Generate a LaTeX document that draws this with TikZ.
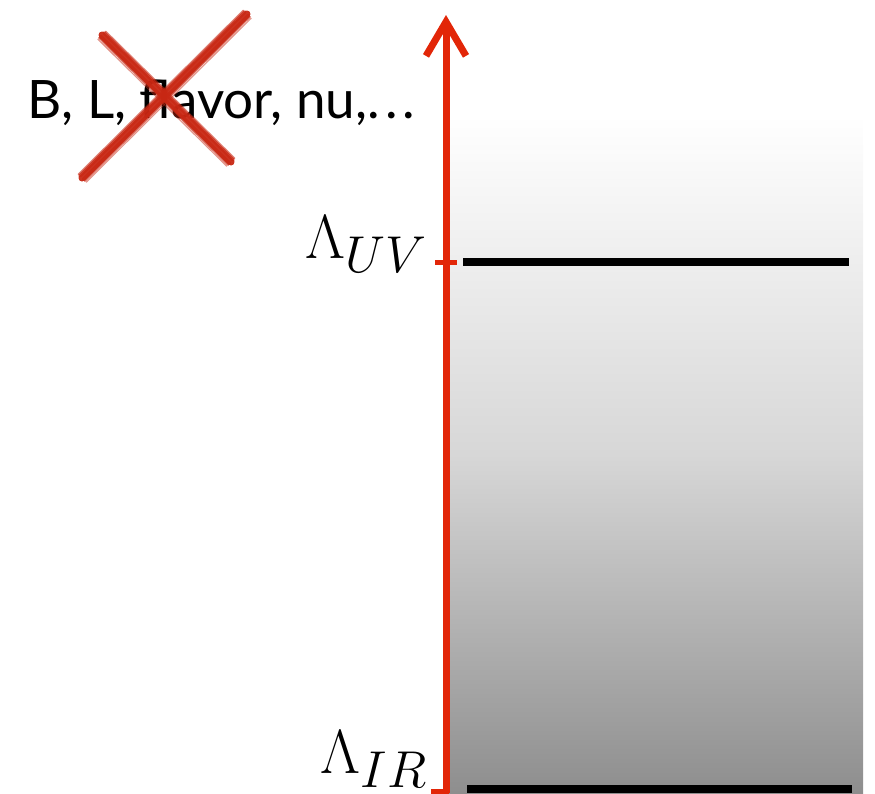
\documentclass[tikz,border=0pt]{standalone}
\usepackage{fontspec}
\setmainfont{Lato}
\usetikzlibrary{arrows.meta}
\definecolor{axisred}{RGB}{226,38,8}
\definecolor{brushred}{RGB}{200,40,20}
\definecolor{shadegray}{RGB}{142,142,142}
\tikzset{
  axis/.style={draw=axisred, line width=7pt},
  level/.style={draw=black, line width=8pt},
  tick/.style={draw=axisred, line width=5pt},
  brush/.style={draw=brushred, line cap=round},
  lbl/.style={inner sep=0pt, font=\Huge, scale=2.5}
}
\begin{document}
\begin{tikzpicture}[x=1pt,y=-1pt]
\useasboundingbox (0,0) rectangle (875,793);
% shaded region
\shade[top color=white, bottom color=shadegray, middle color={rgb,255:red,215;green,215;blue,215}] (447,115) rectangle (863,793);
\fill[white] (447,100) rectangle (863,118);
% text
\node[anchor=base west, inner sep=0pt, font=\fontsize{53}{53}\selectfont] (txt) at (27,118) {B, L, flavor, nu,.\kern5pt.\kern5pt.};
% red cross
\foreach \d/\w/\o in {0/7/0.95, 2/3.5/0.85, -3/3.5/0.8, 4/2/0.7, -5/2/0.6, 6/1.2/0.5}{
  \draw[brush, line width=\w pt, opacity=\o] (82+\d*0.7,178+\d*0.7) -- (247+\d*0.7,14+\d*0.7);
  \draw[brush, line width=\w pt, opacity=\o] (102-\d*0.7,35+\d*0.7) -- (231-\d*0.7,162+\d*0.7);
}
% axis
\coordinate (bot) at (446,793);
\coordinate (top) at (446,15);
\draw[axis, -{Straight Barb[length=34pt, width=40pt]}] (bot) -- (top);
% levels
\coordinate (uvL) at (463,262);
\coordinate (uvR) at (849,262);
\coordinate (irL) at (467,789);
\coordinate (irR) at (852,789);
\draw[level] (uvL) -- (uvR);
\draw[level] (irL) -- (irR);
\coordinate (uvt1) at (435,262);
\coordinate (uvt2) at (457,262);
\coordinate (irt1) at (431,791);
\coordinate (irt2) at (449,791);
\draw[tick] (uvt1) -- (uvt2);
\draw[tick] (irt1) -- (irt2);
% labels
\node[lbl, anchor=base east] (luv) at (428,258) {$\Lambda_{UV}$};
\node[lbl, anchor=base east] (lir) at (428,773) {$\Lambda_{IR}$};
\end{tikzpicture}
\end{document}
